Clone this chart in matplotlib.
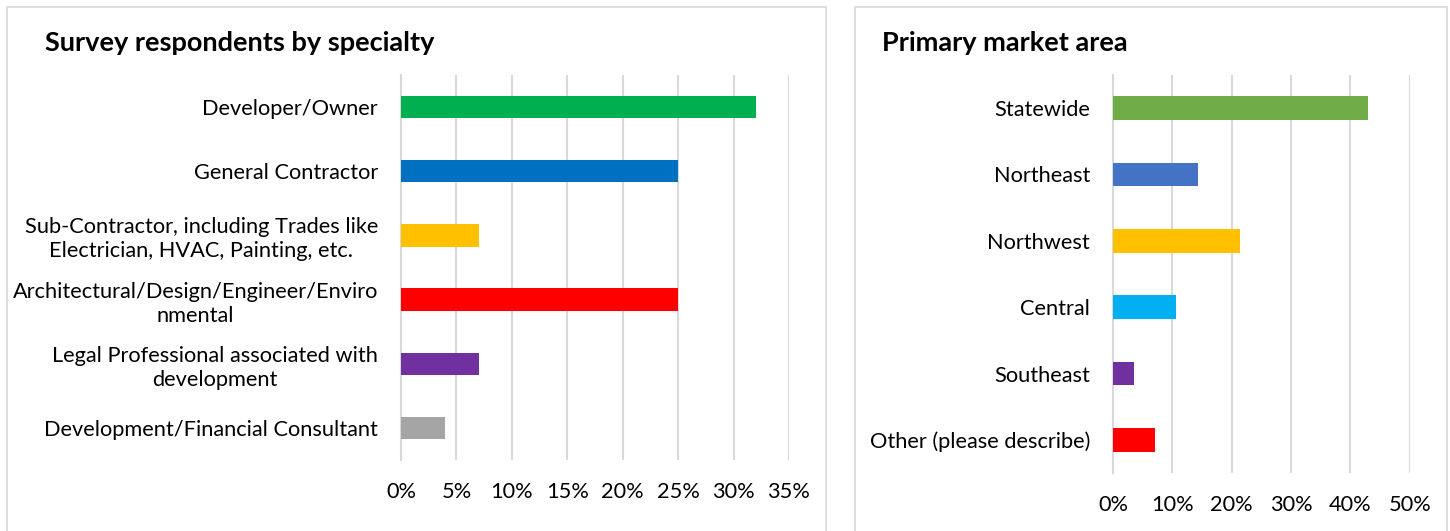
import matplotlib.pyplot as plt
from matplotlib.patches import Rectangle
from matplotlib.ticker import PercentFormatter

plt.rcParams['font.family'] = ['Lato', 'DejaVu Sans']

# left chart data
specialties = ["Developer/Owner",
               "General Contractor",
               "Sub-Contractor, including Trades like\nElectrician, HVAC, Painting, etc.",
               "Architectural/Design/Engineer/Enviro\nnmental",
               "Legal Professional associated with\ndevelopment",
               "Development/Financial Consultant"]
specialty_share = [0.32, 0.25, 0.07, 0.25, 0.07, 0.04]
specialty_colors = ["#00B050", "#0070C0", "#FFC000", "#FF0000", "#7030A0", "#A5A5A5"]

# right chart data
areas = ["Statewide", "Northeast", "Northwest", "Central", "Southeast",
         "Other (please describe)"]
area_share = [0.429, 0.143, 0.214, 0.107, 0.036, 0.071]
area_colors = ["#70AD47", "#4472C4", "#FFC000", "#00B0F0", "#7030A0", "#FF0000"]

W, H = 1450, 531
fig = plt.figure(figsize=(W / 100, H / 100), dpi=100)

# panel frames
for x0, x1 in [(7, 826), (855, 1447)]:
    fig.add_artist(Rectangle((x0 / W, -0.01), (x1 - x0) / W, 1 - 7 / H + 0.01,
                             transform=fig.transFigure, fill=False,
                             edgecolor="#d9d9d9", lw=1.2))


def bar_panel(rect, labels, values, colors, xmax, step, height):
    ax = fig.add_axes(rect)
    y = list(range(len(labels)))
    ax.barh(y, values, color=colors, height=height, zorder=3)
    ax.set_ylim(len(labels) - 0.5, -0.5)
    ax.set_xlim(0, xmax)
    ticks = [i * step for i in range(int(round(xmax / step)) + 1)]
    ax.set_xticks(ticks)
    ax.xaxis.set_major_formatter(PercentFormatter(1.0, decimals=0))
    ax.set_yticks(y)
    ax.set_yticklabels(labels, multialignment="center", linespacing=1.25)
    ax.grid(axis="x", color="#d9d9d9", lw=1.5, zorder=0)
    for s in ["top", "right", "bottom"]:
        ax.spines[s].set_visible(False)
    ax.spines["left"].set_color("#d9d9d9")
    ax.spines["left"].set_linewidth(1.5)
    ax.tick_params(axis="both", length=0, labelsize=15.7, colors="#000000")
    ax.tick_params(axis="y", pad=16.5)
    ax.tick_params(axis="x", pad=16)
    return ax


bar_panel([401 / W, 1 - 460 / H, 388 / W, 385 / H], specialties,
          specialty_share, specialty_colors, 0.35, 0.05, 0.35)
bar_panel([1113 / W, 1 - 473 / H, 296.7 / W, 398 / H], areas,
          area_share, area_colors, 0.5, 0.1, 0.36)

fig.text(45 / W, 1 - 43 / H, "Survey respondents by specialty", fontsize=19.5,
         fontweight="bold", va="center", ha="left")
fig.text(882 / W, 1 - 43 / H, "Primary market area", fontsize=19.5,
         fontweight="bold", va="center", ha="left")

fig.savefig("out.png", dpi=100)
